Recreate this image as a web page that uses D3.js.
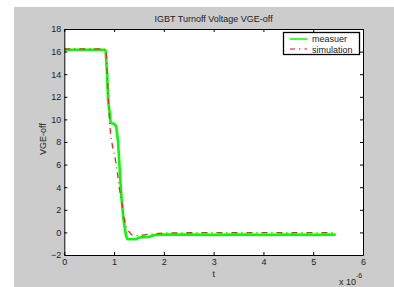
<!DOCTYPE html>
<html><head><meta charset="utf-8">
<script src="https://cdn.jsdelivr.net/npm/d3@7"></script>
<style>body{margin:0;background:#fff}svg{display:block}text{font-family:"Liberation Sans",Arial,Helvetica,sans-serif;fill:#222}</style>
</head><body>
<svg id="c" width="394" height="287"></svg>
<script>
// time in units of 1e-6 s
const measT = [0, 0.2, 0.4, 0.6, 0.8, 0.83, 0.86, 0.88, 0.92, 0.93, 1.0, 1.04, 1.08, 1.12, 1.15, 1.19, 1.24, 1.27, 1.45, 1.5, 1.7, 1.8, 2.0, 2.5, 3.0, 3.5, 4.0, 4.5, 5.0, 5.45];
const measV = [16.15, 16.15, 16.15, 16.15, 16.15, 16.1, 14.0, 11.6, 10.3, 9.7, 9.6, 9.4, 8.0, 5.0, 3.0, 1.1, -0.3, -0.6, -0.6, -0.45, -0.4, -0.25, -0.2, -0.2, -0.22, -0.2, -0.22, -0.2, -0.22, -0.2];
const simT = [0, 0.2, 0.4, 0.6, 0.8, 0.84, 0.87, 0.9, 0.93, 0.97, 1.02, 1.07, 1.1, 1.15, 1.19, 1.24, 1.29, 1.35, 1.5, 1.7, 2.0, 2.5, 3.0, 3.5, 4.0, 4.5, 5.0, 5.45];
const simV = [16.25, 16.25, 16.25, 16.25, 16.25, 16.1, 13.5, 10.5, 8.6, 7.6, 6.6, 5.2, 4.0, 2.9, 1.5, 0.6, 0.1, -0.2, -0.3, -0.15, -0.05, -0.03, -0.02, -0.02, -0.02, -0.02, -0.02, -0.02];
const xTicks = [0, 1, 2, 3, 4, 5, 6];
const yTicks = [-2, 0, 2, 4, 6, 8, 10, 12, 14, 16, 18];
const seriesNames = ["measuer", "simulation"];
const titleText = "IGBT Turnoff Voltage VGE-off";

const svg = d3.select("#c");
const L = 64.3, R = 363, T = 29, B = 255;
svg.append("rect").attr("x", 14).attr("y", 7).attr("width", 380).attr("height", 280).attr("fill", "#cccccc");
svg.append("rect").attr("x", L).attr("y", T).attr("width", R - L).attr("height", B - T).attr("fill", "#fff");

const x = d3.scaleLinear().domain([0, 6]).range([L, R]);
const y = d3.scaleLinear().domain([-2, 18]).range([B, T]);

svg.append("clipPath").attr("id", "pc").append("rect").attr("x", L).attr("y", T).attr("width", R - L).attr("height", B - T);
const g = svg.append("g").attr("clip-path", "url(#pc)");
const line = d3.line().x(d => x(d[0])).y(d => y(d[1]));
g.append("path").datum(d3.zip(measT, measV)).attr("d", line)
  .attr("fill", "none").attr("stroke", "#00ff00").attr("stroke-width", 2.6).attr("stroke-linejoin", "round");
g.append("path").datum(d3.zip(simT, simV)).attr("d", line)
  .attr("fill", "none").attr("stroke", "#ff2020").attr("stroke-width", 1.3).attr("stroke-dasharray", "6,4,1,4");

function styleAxis(sel) {
  sel.selectAll("path").attr("stroke", "#000");
  sel.selectAll("line").attr("stroke", "#000");
  sel.selectAll("text").style("font-size", "9px").attr("fill", "#222");
}
svg.append("g").attr("transform", `translate(0,${B})`)
  .call(d3.axisBottom(x).tickValues(xTicks).tickSizeInner(-3).tickSizeOuter(0).tickPadding(4).tickFormat(d3.format("d"))).call(styleAxis);
svg.append("g").attr("transform", `translate(0,${T})`)
  .call(d3.axisTop(x).tickValues(xTicks).tickSizeInner(-3).tickSizeOuter(0).tickFormat("")).call(styleAxis);
svg.append("g").attr("transform", `translate(${L},0)`)
  .call(d3.axisLeft(y).tickValues(yTicks).tickSizeInner(-3).tickSizeOuter(0).tickPadding(3).tickFormat(d3.format("d"))).call(styleAxis);
svg.append("g").attr("transform", `translate(${R},0)`)
  .call(d3.axisRight(y).tickValues(yTicks).tickSizeInner(-3).tickSizeOuter(0).tickFormat("")).call(styleAxis);

svg.append("text").attr("x", (L + R) / 2).attr("y", 22).attr("text-anchor", "middle").style("font-size", "9px").text(titleText);
svg.append("text").attr("x", (L + R) / 2).attr("y", 277).attr("text-anchor", "middle").style("font-size", "9px").text("t");
svg.append("text").attr("transform", "translate(46,139) rotate(-90)").attr("text-anchor", "middle").style("font-size", "9px").text("VGE-off");
const ex = svg.append("text").attr("x", 339).attr("y", 285).style("font-size", "9px");
ex.append("tspan").text("x 10");
ex.append("tspan").attr("dy", -7).style("font-size", "7px").text("-6");

// legend
const lg = svg.append("g");
lg.append("rect").attr("x", 283.5).attr("y", 32.5).attr("width", 76).attr("height", 22).attr("fill", "#fff").attr("stroke", "#000").attr("stroke-width", 1.3);
lg.append("line").attr("x1", 290).attr("x2", 307).attr("y1", 39).attr("y2", 39).attr("stroke", "#00ff00").attr("stroke-width", 1.5);
lg.append("line").attr("x1", 290).attr("x2", 307).attr("y1", 49).attr("y2", 49).attr("stroke", "#ff0000").attr("stroke-width", 1).attr("stroke-dasharray", "5,4,1.5,4");
lg.append("text").attr("x", 312).attr("y", 42).style("font-size", "9px").text(seriesNames[0]);
lg.append("text").attr("x", 312).attr("y", 52.5).style("font-size", "9px").text(seriesNames[1]);
</script>
</body></html>
